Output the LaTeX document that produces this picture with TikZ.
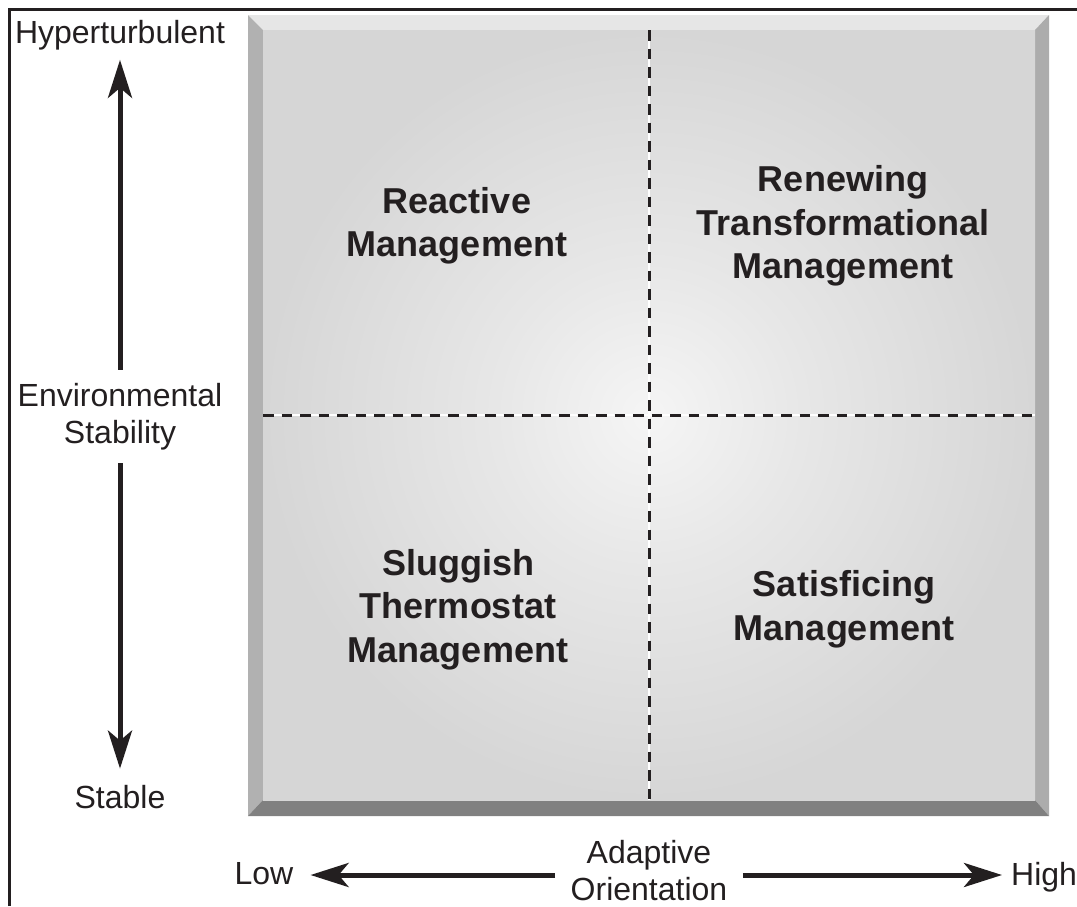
\documentclass[tikz,border=0pt]{standalone}
\usepackage{fontspec}
\setmainfont{Liberation Sans}
\usetikzlibrary{arrows.meta}
\definecolor{ink}{HTML}{231F20}
\definecolor{bevtop}{HTML}{E6E6E6}
\definecolor{bevleft}{HTML}{B1B1B1}
\definecolor{bevright}{HTML}{ACACAC}
\definecolor{bevbot}{HTML}{808080}
\definecolor{faceA}{HTML}{F5F5F5}
\definecolor{faceB}{HTML}{E7E7E7}
\definecolor{faceC}{HTML}{D6D6D6}
\pgfdeclareradialshading{facegrad}{\pgfpoint{0bp}{0bp}}{color(0bp)=(faceA); color(10bp)=(faceB); color(25bp)=(faceC); color(50bp)=(faceC)}
\tikzset{
  axislabel/.style={font=\fontsize{32}{37}\selectfont, text=ink, inner sep=0pt, align=center},
  quadlabel/.style={font=\fontsize{36}{43.5}\selectfont\bfseries, text=ink, inner sep=0pt, align=center},
  axisarrow/.style={draw=ink, line width=5pt, -{Stealth[length=38pt,width=24pt,inset=10pt]}},
  divider/.style={draw=ink, line width=3pt, dash pattern=on 10.5pt off 8pt},
  dividerbase/.style={draw=white, line width=1.2pt},
  frameline/.style={draw=ink, line width=3.5pt}
}
\begin{document}
\begin{tikzpicture}[x=1pt,y=-1pt]
\useasboundingbox (0,0) rectangle (1077,906);
\fill[white] (0,0) rectangle (1077,906);
% outer frame line
\draw[frameline] (9.5,906) -- (9.5,9.5) -- (1077,9.5);
% bevelled panel
\fill[bevtop] (248,15) -- (1049,15) -- (1035,30) -- (263,30) -- cycle;
\fill[bevleft] (248,15) -- (263,30) -- (263,800) -- (248,816) -- cycle;
\fill[bevright] (1049,15) -- (1049,816) -- (1035,800) -- (1035,30) -- cycle;
\fill[bevbot] (248,816) -- (1049,816) -- (1035,800) -- (263,800) -- cycle;
\shade[shading=facegrad] (263,30) rectangle (1035,800);
% dividers
\coordinate (vt) at (649,30);
\coordinate (vb) at (649,800);
\coordinate (hl) at (263,415);
\coordinate (hr) at (1035,415);
\draw[dividerbase] (vt) -- (vb);
\draw[dividerbase] (hl) -- (hr);
\draw[divider] (vt) -- (vb);
\draw[divider] (hl) -- (hr);
% quadrant labels
\node[quadlabel] (reactive) at (457,226) {Reactive\\Management};
\node[quadlabel] (renewing) at (843,226) {Renewing\\Transformational\\Management};
\node[quadlabel] (sluggish) at (458,609.4) {Sluggish\\Thermostat\\Management};
\node[quadlabel] (satisficing) at (844,609.4) {Satisficing\\Management};
% axis labels
\node[axislabel, anchor=base] (hyper) at (120,43) {Hyperturbulent};
\node[axislabel] (env) at (120,416.4) {Environmental\\Stability};
\node[axislabel, anchor=base] (stable) at (120,808) {Stable};
\node[axislabel, anchor=base] (low) at (264,884) {Low};
\node[axislabel, anchor=base west] (high) at (1011,885) {High};
\node[axislabel, font=\fontsize{32}{37}\selectfont] (adapt) at (649,871) {Adaptive\\Orientation};
% axis arrows
\draw[axisarrow, shorten <=13pt, shorten >=10pt] (env.north) -- (hyper.south);
\draw[axisarrow, shorten <=13pt, shorten >=16pt] (env.south) -- (stable.north);
\draw[axisarrow, shorten <=15.5pt, shorten >=17pt] ([yshift=-4pt]adapt.west) -- ([yshift=-4pt]adapt.west -| low.east);
\draw[axisarrow, shorten <=15.5pt, shorten >=9pt] ([yshift=-4pt]adapt.east) -- ([yshift=-4pt]adapt.east -| high.west);
\end{tikzpicture}
\end{document}
